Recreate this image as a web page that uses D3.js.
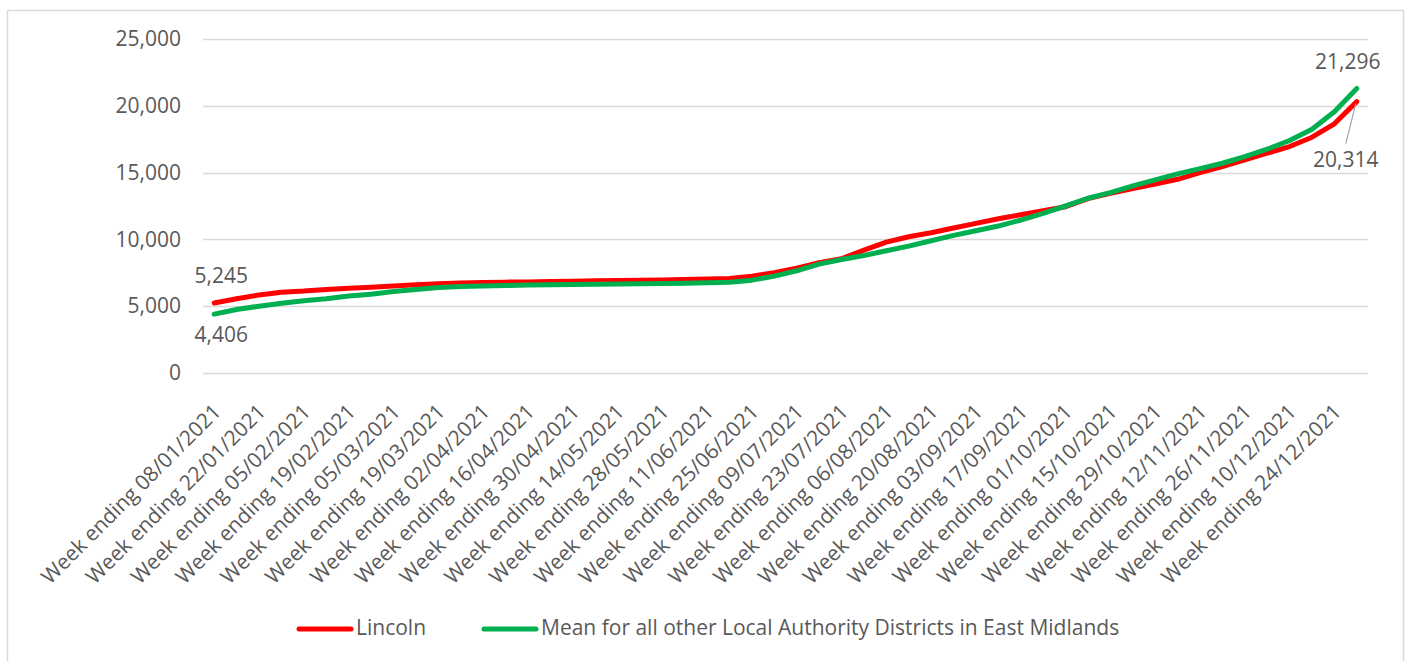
<!DOCTYPE html>
<html>
<head>
<meta charset="utf-8">
<script src="https://cdn.jsdelivr.net/npm/d3@7"></script>
<style>
  body { margin: 0; background: #fff; }
  text { font-family: "Open Sans", sans-serif; fill: #595959; }
</style>
</head>
<body>
<svg id="chart" width="1407" height="661"></svg>
<script>
// weekly, week ending 08/01/2021 .. 31/12/2021
let weeks = [];
let start = new Date(2021, 0, 8);
for (let i = 0; i < 52; i++) {
    let d = new Date(start.getTime() + i * 7 * 86400000);
    weeks.push(d3.timeFormat("%d/%m/%Y")(d));
}

let lincoln = [5245, 5560, 5840, 6050, 6130, 6250, 6340, 6420, 6520, 6600,
               6680, 6740, 6780, 6800, 6820, 6850, 6870, 6900, 6920, 6940,
               6960, 7000, 7030, 7080, 7250, 7500, 7850, 8250, 8550, 9200,
               9800, 10200, 10500, 10850, 11200, 11550, 11850, 12150, 12450, 13050,
               13450, 13800, 14150, 14500, 15000, 15450, 15950, 16450, 16950, 17650,
               18650, 20314];
let mean_other = [4406, 4750, 5000, 5220, 5400, 5550, 5760, 5900, 6100, 6250,
                  6400, 6480, 6520, 6550, 6580, 6600, 6620, 6640, 6660, 6680,
                  6700, 6720, 6760, 6800, 6950, 7250, 7650, 8150, 8500, 8800,
                  9150, 9500, 9900, 10300, 10650, 11000, 11450, 11950, 12500, 13080,
                  13500, 14000, 14450, 14900, 15300, 15700, 16200, 16750, 17400, 18250,
                  19550, 21296];
let yTicks = [0, 5000, 10000, 15000, 20000, 25000];

let series = [
    {name: "Lincoln", values: lincoln, color: "#FF0000"},
    {name: "Mean for all other Local Authority Districts in East Midlands", values: mean_other, color: "#00B050"}
];

let svg = d3.select("#chart");
let margin = {top: 39, right: 39, bottom: 288, left: 203};
let width = 1407 - margin.left - margin.right,
    height = 661 - margin.top - margin.bottom;

// chart border
svg.append("rect")
   .attr("x", 7.5).attr("y", 10.5)
   .attr("width", 1396).attr("height", 660)
   .attr("fill", "none").attr("stroke", "#D9D9D9").attr("stroke-width", 1.5);

let g = svg.append("g").attr("transform", `translate(${margin.left},${margin.top})`);

let x = d3.scaleBand().domain(weeks).range([0, width]);
let y = d3.scaleLinear().domain([0, 25000]).range([height, 0]);
let cx = d => x(d) + x.bandwidth() / 2;

// gridlines
g.append("g")
 .selectAll("line")
 .data(yTicks)
 .enter().append("line")
 .attr("x1", 0).attr("x2", width)
 .attr("y1", d => Math.round(y(d)) + 0.5).attr("y2", d => Math.round(y(d)) + 0.5)
 .attr("stroke", "#D9D9D9").attr("stroke-width", 1.3);

let yAxis = g.append("g")
 .call(d3.axisLeft(y).tickValues(yTicks).tickFormat(d3.format(",")).tickSize(0).tickPadding(22));
yAxis.select(".domain").remove();
yAxis.selectAll("text").style("font-size", "21px").attr("fill", "#595959");

// x labels, every second week
let xAxis = g.append("g")
 .attr("transform", `translate(0,${height})`)
 .call(d3.axisBottom(x).tickValues(weeks.filter((d, i) => i % 2 == 0)).tickSize(0)
         .tickFormat(d => "Week ending " + d));
xAxis.select(".domain").remove();
xAxis.selectAll("text")
     .style("font-size", "21px")
     .attr("fill", "#595959")
     .attr("text-anchor", "end")
     .attr("dy", 0).attr("y", 0)
     .attr("transform", "translate(8,40) rotate(-45)");

let line = d3.line()
             .x((d, i) => cx(weeks[i]))
             .y(d => y(d));

series.forEach(s => {
    g.append("path")
     .datum(s.values)
     .attr("fill", "none")
     .attr("stroke", s.color)
     .attr("stroke-width", 5)
     .attr("stroke-linecap", "round")
     .attr("stroke-linejoin", "round")
     .attr("d", line);
});

// data labels at the ends
let fmt = d3.format(",");
let last = weeks.length - 1;
g.append("text").attr("x", cx(weeks[0]) + 7).attr("y", y(lincoln[0]) - 26)
 .attr("text-anchor", "middle").attr("dominant-baseline", "middle").style("font-size", "21px")
 .text(fmt(lincoln[0]));
g.append("text").attr("x", cx(weeks[0]) + 7).attr("y", y(mean_other[0]) + 22)
 .attr("text-anchor", "middle").attr("dominant-baseline", "middle").style("font-size", "21px")
 .text(fmt(mean_other[0]));
g.append("text").attr("x", cx(weeks[last]) - 9).attr("y", y(mean_other[last]) - 25)
 .attr("text-anchor", "middle").attr("dominant-baseline", "middle").style("font-size", "21px")
 .text(fmt(mean_other[last]));
g.append("line")
 .attr("x1", cx(weeks[last]) - 11).attr("y1", y(lincoln[last]) + 42)
 .attr("x2", cx(weeks[last]) - 1).attr("y2", y(lincoln[last]) + 2)
 .attr("stroke", "#A6A6A6").attr("stroke-width", 1.2);
g.append("text").attr("x", cx(weeks[last]) - 11).attr("y", y(lincoln[last]) + 60)
 .attr("text-anchor", "middle").attr("dominant-baseline", "middle").style("font-size", "21px")
 .text(fmt(lincoln[last]));

// legend
let legendPos = [297, 482];
let legend = svg.append("g").attr("transform", "translate(0,629)");
series.forEach((s, i) => {
    legend.append("line")
          .attr("x1", legendPos[i] + 2).attr("x2", legendPos[i] + 54)
          .attr("y1", 0).attr("y2", 0)
          .attr("stroke", s.color).attr("stroke-width", 5).attr("stroke-linecap", "round");
    legend.append("text")
          .attr("x", legendPos[i] + 59).attr("y", 0)
          .attr("dominant-baseline", "middle")
          .style("font-size", "21px")
          .text(s.name);
});
</script>
</body>
</html>
